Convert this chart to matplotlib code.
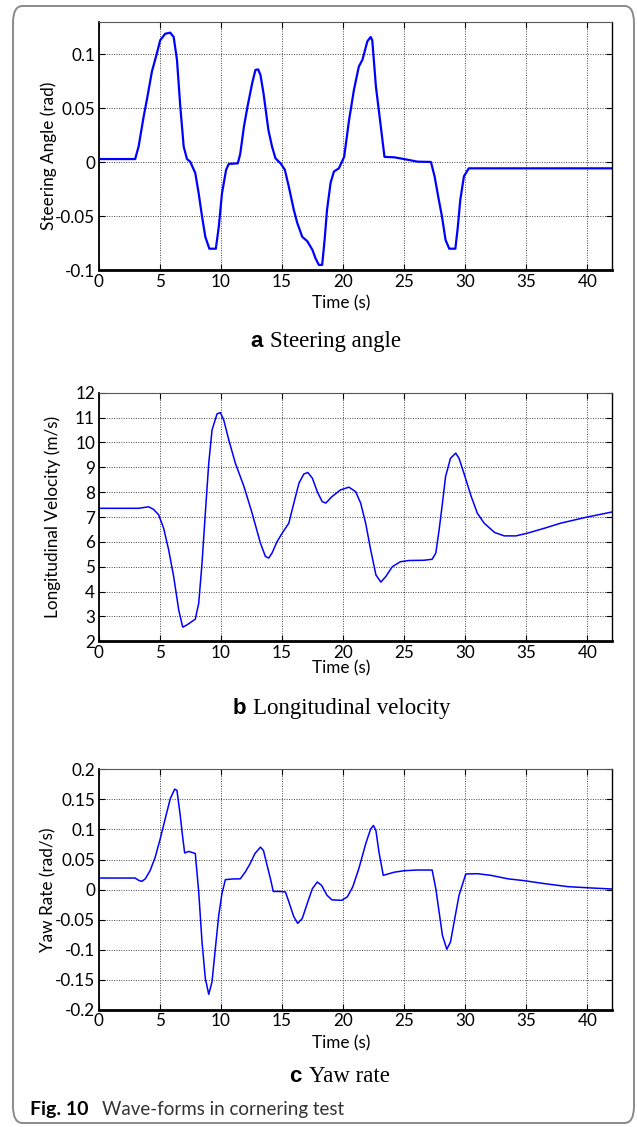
import matplotlib
matplotlib.use("Agg")
import matplotlib.pyplot as plt
from matplotlib.patches import FancyBboxPatch

# ---------------------------------------------------------------------------
# datos
# ---------------------------------------------------------------------------
# (a) ángulo de dirección
t_steer = [0, 3.0, 3.28, 3.69, 3.96, 4.37, 4.78, 5.05, 5.46, 5.87, 6.15, 6.42,
           6.69, 6.97, 7.24, 7.5, 7.92, 8.2, 8.47, 8.74, 9.07, 9.6, 9.84, 10.1,
           10.44, 10.66, 11.4, 11.6, 11.9, 12.2, 12.57, 12.84, 13.06, 13.25,
           13.5, 13.9, 14.2, 14.48, 14.9, 15.25, 15.57, 15.98, 16.26, 16.67,
           17.08, 17.5, 17.76, 18.03, 18.3, 18.5, 18.7, 18.99, 19.26, 19.67,
           20.1, 20.5, 20.9, 21.3, 21.6, 22.0, 22.27, 22.4, 22.7, 23.1, 23.4,
           24.2, 25.0, 26.1, 27.2, 27.5, 27.8, 28.1, 28.4, 28.7, 29.2, 29.4,
           29.6, 29.9, 30.3, 42.0]
steer = [0.003, 0.003, 0.0145, 0.042, 0.058, 0.084, 0.101, 0.113, 0.119, 0.120,
         0.116, 0.095, 0.052, 0.0145, 0.003, 0.0006, -0.010, -0.029, -0.050,
         -0.069, -0.080, -0.080, -0.060, -0.029, -0.007, -0.0015, -0.001, 0.008,
         0.033, 0.052, 0.073, 0.0855, 0.086, 0.081, 0.064, 0.030, 0.0145,
         0.0037, -0.001, -0.007, -0.0225, -0.044, -0.056, -0.069, -0.073,
         -0.081, -0.089, -0.095, -0.095, -0.072, -0.044, -0.019, -0.0086,
         -0.0056, 0.005, 0.039, 0.067, 0.0886, 0.095, 0.112, 0.116, 0.113,
         0.070, 0.033, 0.005, 0.0046, 0.003, 0.0006, 0.0003, -0.013, -0.032,
         -0.050, -0.072, -0.080, -0.080, -0.060, -0.035, -0.013, -0.0056,
         -0.0056]

# (b) velocidad longitudinal
t_vel = [0, 2.73, 3.28, 4.1, 4.5, 4.92, 5.33, 5.74, 6.15, 6.56, 6.89, 7.24,
         7.92, 8.2, 8.47, 8.74, 9.02, 9.29, 9.7, 9.97, 10.25, 10.66, 11.2,
         11.9, 12.57, 13.25, 13.66, 13.93, 14.2, 14.6, 15.03, 15.57, 15.98,
         16.4, 16.8, 17.13, 17.5, 17.9, 18.3, 18.6, 19.1, 19.8, 20.49, 21.04,
         21.45, 21.86, 22.27, 22.7, 23.1, 23.5, 24.04, 24.7, 25.4, 26.64, 27.3,
         27.6, 27.87, 28.14, 28.4, 28.8, 29.23, 29.5, 29.9, 30.5, 31.0, 31.56,
         32.4, 33.2, 34.15, 35.1, 36.5, 37.8, 40.0, 42.0]
vel = [7.35, 7.35, 7.35, 7.41, 7.31, 7.09, 6.55, 5.68, 4.61, 3.27, 2.57, 2.66,
       2.89, 3.53, 5.14, 7.15, 9.16, 10.5, 11.15, 11.2, 10.9, 10.1, 9.16, 8.23,
       7.15, 5.95, 5.41, 5.35, 5.55, 6.0, 6.35, 6.75, 7.55, 8.36, 8.73, 8.79,
       8.56, 8.02, 7.62, 7.56, 7.82, 8.09, 8.2, 8.02, 7.56, 6.75, 5.68, 4.67,
       4.38, 4.6, 5.0, 5.2, 5.25, 5.26, 5.3, 5.55, 6.48, 7.55, 8.63, 9.36, 9.57,
       9.36, 8.76, 7.82, 7.15, 6.75, 6.38, 6.24, 6.24, 6.35, 6.55, 6.75, 7.0,
       7.2]

# (c) velocidad de guiñada
t_yaw = [0, 3.0, 3.28, 3.55, 3.83, 4.23, 4.64, 5.05, 5.46, 5.87, 6.23, 6.42,
         6.69, 6.89, 7.05, 7.38, 7.79, 7.92, 8.2, 8.47, 8.74, 9.02, 9.29, 9.56,
         9.84, 10.1, 10.38, 10.93, 11.6, 12.0, 12.4, 12.8, 13.25, 13.5, 13.8,
         14.07, 14.3, 14.9, 15.3, 15.57, 15.98, 16.3, 16.67, 17.08, 17.5, 17.9,
         18.25, 18.7, 19.1, 19.9, 20.36, 20.8, 21.3, 21.86, 22.27, 22.5, 22.7,
         22.95, 23.3, 24.2, 25.0, 26.1, 27.3, 27.6, 27.87, 28.14, 28.5, 28.8,
         29.1, 29.5, 30.05, 31.0, 32.1, 33.5, 34.8, 36.5, 38.4, 40.3, 42.0]
yaw = [0.0193, 0.0193, 0.0155, 0.0138, 0.018, 0.032, 0.054, 0.0845, 0.118,
       0.151, 0.167, 0.165, 0.123, 0.087, 0.061, 0.0635, 0.061, 0.060, -0.0039,
       -0.087, -0.1475, -0.174, -0.153, -0.098, -0.0425, -0.0066, 0.0166,
       0.0177, 0.018, 0.029, 0.043, 0.060, 0.0707, 0.065, 0.040, 0.018,
       -0.003, -0.003, -0.004, -0.020, -0.045, -0.056, -0.048, -0.023, 0.0017,
       0.0127, 0.0072, -0.0094, -0.017, -0.0177, -0.012, 0.0044, 0.0348, 0.076,
       0.101, 0.1066, 0.098, 0.0624, 0.0238, 0.029, 0.0315, 0.0326, 0.0326,
       0.0017, -0.037, -0.076, -0.099, -0.087, -0.0536, -0.0094, 0.026, 0.0265,
       0.0238, 0.018, 0.015, 0.01, 0.005, 0.0028, 0.0011]

x_ticks = [0, 5, 10, 15, 20, 25, 30, 35, 40]
steer_ticks = [-0.1, -0.05, 0, 0.05, 0.1]
steer_labels = ["-0.1", "-0.05", "0", "0.05", "0.1"]
vel_ticks = [2, 3, 4, 5, 6, 7, 8, 9, 10, 11, 12]
yaw_ticks = [-0.2, -0.15, -0.1, -0.05, 0, 0.05, 0.1, 0.15, 0.2]
yaw_labels = ["-0.2", "-0.15", "-0.1", "-0.05", "0", "0.05", "0.1", "0.15", "0.2"]

W, H = 637, 1127
SANS = ["Lato", "DejaVu Sans"]

fig = plt.figure(figsize=(W / 100, H / 100), dpi=100)

# marco redondeado
fig.patches.append(FancyBboxPatch((13 / W, 4 / H), 621 / W, 1117 / H,
                                  boxstyle="round,pad=0,rounding_size=0.015",
                                  transform=fig.transFigure, fill=False,
                                  edgecolor="#8a8a8a", linewidth=1.4))


def px_axes(left, top, right, bottom):
    return fig.add_axes([left / W, 1 - bottom / H, (right - left) / W,
                         (bottom - top) / H])


def style(ax, ylabel, yt, ylab, ylim, xlab_y):
    ax.set_xlim(0, 42)
    ax.set_ylim(*ylim)
    ax.set_xticks(x_ticks)
    ax.set_xticklabels([str(v) for v in x_ticks])
    ax.set_yticks(yt)
    ax.set_yticklabels(ylab)
    ax.grid(True, linestyle=(0, (1, 1.5)), color="#444444", linewidth=0.7)
    ax.tick_params(direction="in", length=4, width=0.8, top=True, right=True,
                   labelsize=12.3, pad=2.5, colors="black")
    for lab in ax.get_xticklabels() + ax.get_yticklabels():
        lab.set_family(SANS)
    ax.spines["bottom"].set_linewidth(2.0)
    ax.spines["left"].set_linewidth(1.3)
    ax.spines["right"].set_linewidth(1.0)
    ax.spines["top"].set_linewidth(0.8)
    ax.spines["top"].set_color("#555555")
    ax.set_ylabel(ylabel, fontsize=12.3, family=SANS)
    fig.text(341 / W, 1 - xlab_y / H, "Time (s)", fontsize=12.3, family=SANS,
             ha="center", va="center")


ax1 = px_axes(98.5, 22.3, 611.8, 270.3)
ax1.plot(t_steer, steer, color="#0000ff", linewidth=1.6)
style(ax1, "Steering Angle (rad)", steer_ticks, steer_labels, (-0.1, 0.1296), 303)
ax1.yaxis.set_label_coords(-0.081, 0.46)

ax2 = px_axes(98.5, 392.7, 611.8, 641.3)
ax2.plot(t_vel, vel, color="#0000ff", linewidth=1.1)
style(ax2, "Longitudinal Velocity (m/s)", vel_ticks,
      [str(v) for v in vel_ticks], (2, 12), 668)
ax2.yaxis.set_label_coords(-0.073, 0.5)

ax3 = px_axes(98.5, 769.3, 611.8, 1010)
ax3.plot(t_yaw, yaw, color="#0000ff", linewidth=1.1)
style(ax3, "Yaw Rate (rad/s)", yaw_ticks, yaw_labels, (-0.2, 0.2), 1043)
ax3.yaxis.set_label_coords(-0.082, 0.5)

# subtítulos de cada panel
captions = [("a", "Steering angle", 263, 346.7),
            ("b", "Longitudinal velocity", 246, 714),
            ("c", "Yaw rate", 302, 1081.7)]
for letter, txt, xend, yb in captions:
    fig.text(xend / W, 1 - yb / H, letter, fontsize=16, fontweight="bold",
             family="Liberation Sans", ha="right", va="baseline")
    fig.text((xend + 7) / W, 1 - yb / H, txt, fontsize=16.5,
             family="Liberation Serif", ha="left", va="baseline")

fig.text(30 / W, 1 - 1115 / H, "Fig. 10", fontsize=14, fontweight="bold",
         family=SANS, ha="left", va="baseline")
fig.text(101.6 / W, 1 - 1115 / H, "Wave-forms in cornering test", fontsize=13.5,
         family=SANS, ha="left", va="baseline", color="#333333")

fig.savefig("out.png", dpi=100)
